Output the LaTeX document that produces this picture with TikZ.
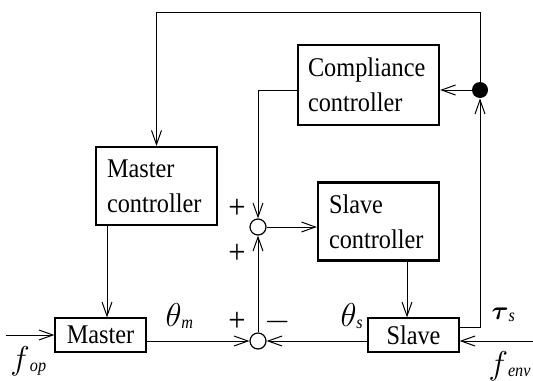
\documentclass[tikz,border=0pt]{standalone}
\usepackage{fix-cm}
\usepackage{amsmath}
\usepackage{fontspec}
\setmainfont{Liberation Serif}[FakeStretch=0.9]
\usetikzlibrary{arrows.meta}
\newcommand{\boxfont}{\fontsize{13.5}{17.5}\selectfont}
\newcommand{\siglab}[3][16.5]{{\fontsize{#1}{#1}\selectfont$#2$}\raisebox{-1pt}{\fontsize{9}{9}\selectfont\itshape #3}}

\begin{document}
\begin{tikzpicture}[x=0.5pt,y=-0.5pt,line width=0.5pt,
  >={Straight Barb[length=7pt,width=5pt]},
  ctrl/.style={draw,line width=1.1pt,align=left,inner xsep=5.5pt,minimum height=39pt,font=\boxfont},
  plant/.style={draw,line width=0.6pt,minimum width=45.5pt,minimum height=17pt,inner sep=0pt,font=\boxfont},
  sumpt/.style={draw,circle,line width=0.6pt,minimum size=8pt,inner sep=0pt},
  sign/.style={inner sep=0pt,font=\fontsize{17}{17}\selectfont},
  sig/.style={anchor=west,inner sep=0pt}]
  \useasboundingbox (0,0) rectangle (533,380);

  \node[ctrl,text width=49.5pt] (mctrl) at (156.5,186) {Master\\controller};
  \node[ctrl,text width=60.5pt,inner xsep=5pt,minimum height=40pt] (comp) at (368.5,85) {Compliance\\controller};
  \node[ctrl,text width=49.5pt] (sctrl) at (378.5,221.5) {Slave\\controller};
  \node[plant] (master) at (100.5,335) {Master};
  \node[plant] (slave) at (413.5,335) {Slave};
  \node[sumpt] (usum) at (258,227) {};
  \node[sumpt] (lsum) at (258,341) {};
  \node[circle,fill=black,minimum size=8pt,inner sep=0pt] (dot) at (480,90) {};

  \coordinate (fop) at (6,335);
  \coordinate (fenv) at (533,341);
  \coordinate (top) at (480,12);
  \coordinate (min) at ([xshift=3.25pt]master.north);
  \coordinate (sin) at ([xshift=-3.25pt]slave.north);

  \draw[->] (fop) -- (master);
  \draw[->] (lsum -| master.east) -- (lsum);
  \draw[->] (lsum -| slave.west) -- (lsum);
  \draw[->] (fenv) -- (fenv -| slave.east);
  \draw[->] ([yshift=4pt]slave.east) -| (dot);
  \draw[->] (dot) -- (comp.east |- dot);
  \draw[->] (dot) -- (top) -| (mctrl);
  \draw[->] (comp.west |- dot) -| (usum);
  \draw[->] (usum) -- (usum -| sctrl.west);
  \draw[->] (lsum) -- (usum);
  \draw[->] (min |- mctrl.south) -- (min);
  \draw[->] (sin |- sctrl.south) -- (sin);

  \node[sign] (s1) at (237,209) {+};
  \node[sign] (s2) at (237,254) {+};
  \node[sign] (s3) at (237,322) {+};
  \node[sign] (s4) at (278,322) {$-$};

  \node[sig] (thm) at (165,316) {\siglab{\theta}{m}};
  \node[sig] (ths) at (340,316) {\siglab{\theta}{s}};
  \node[sig] (taus) at (491,315) {\siglab[13]{\boldsymbol{\tau}}{s}};
  \node[sig] (fo) at (10,361) {\siglab{f}{op}};
  \node[sig,anchor=east] (fe) at (531,366) {\siglab{f}{env}};
\end{tikzpicture}
\end{document}
